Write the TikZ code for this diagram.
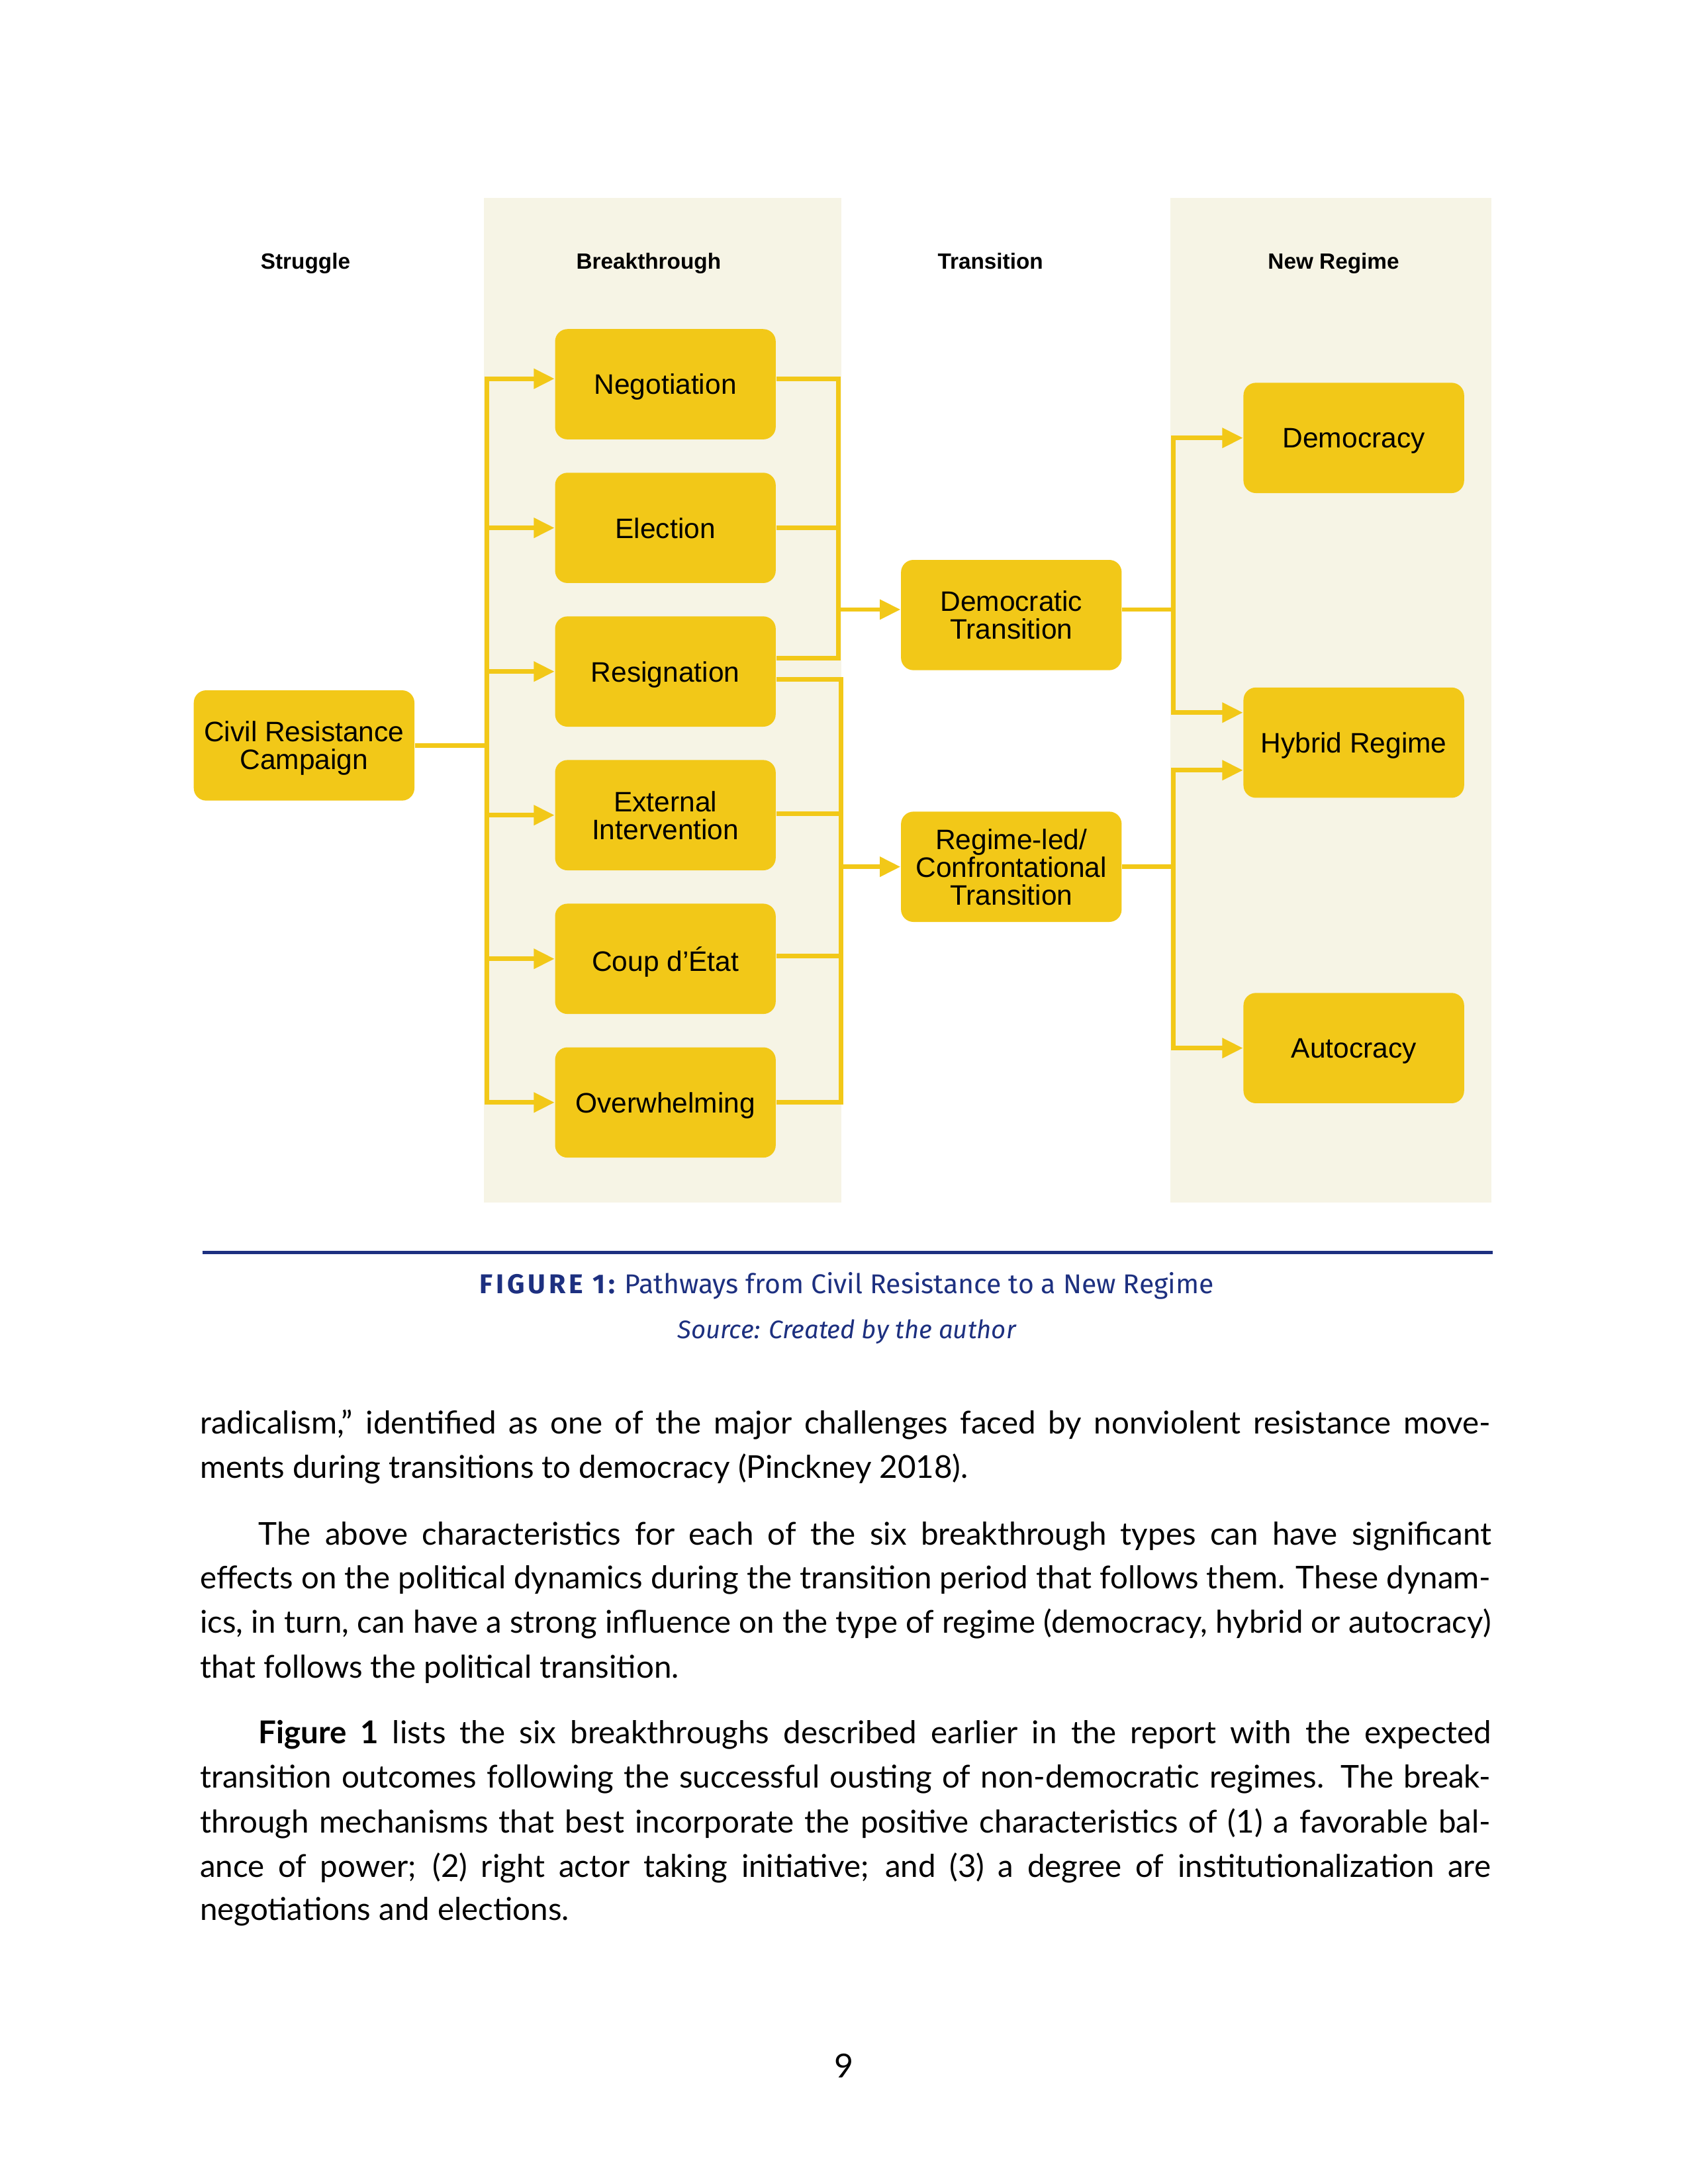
\documentclass[tikz,border=0pt]{standalone}
\usepackage{fontspec}
\usepackage{graphicx}
\setmainfont{Lato}
\newfontfamily\boxfont{Liberation Sans}
\newfontfamily\capfont{Fira Sans}
\newfontfamily\capfontsp{Fira Sans}[LetterSpace=12]
\usetikzlibrary{arrows.meta}
\definecolor{gold}{RGB}{242,200,24}
\definecolor{panelbg}{RGB}{246,244,229}
\definecolor{navy}{RGB}{29,48,128}
\newsavebox\jlbox
\newcommand\jline[2]{\sbox\jlbox{#2}\ifdim\wd\jlbox>#1\relax\resizebox{#1}{!}{\usebox\jlbox}\else\makebox[#1][s]{#2}\fi}
\tikzset{
  stage/.style={rounded corners=4.5pt, fill=gold, minimum width=80pt, minimum height=40pt,
    align=center, inner sep=1pt, text depth=0pt, font=\boxfont\fontsize{10.2}{10.1}\selectfont},
  header/.style={anchor=base, font=\boxfont\bfseries\fontsize{8}{10}\selectfont},
  conn/.style={draw=gold, line width=1.6pt},
  arr/.style={conn, -{Triangle[length=7.5pt,width=7pt]}},
  bodyline/.style={anchor=base west, inner sep=0pt, font=\fontsize{11.4}{16}\selectfont},
}
\begin{document}
\begin{tikzpicture}[x=0.50579pt, y=-0.50579pt]
\useasboundingbox[fill=white] (0,0) rectangle (1210,1566);
% panels
\fill[panelbg] (347,142) rectangle (603,862);
\fill[panelbg] (839,142) rectangle (1069,862);
% headers
\node[header] (h1) at (219,193) {Struggle};
\node[header] (h2) at (465,193) {Breakthrough};
\node[header] (h3) at (710,193) {Transition};
\node[header] (h4) at (956,193) {New Regime};
% nodes
\node[stage] (civ) at (218,534.5) {Civil Resistance\\Campaign};
\node[stage] (neg) at (477,275.5) {Negotiation};
\node[stage] (ele) at (477,378.5) {Election};
\node[stage] (res) at (477,481.5) {Resignation};
\node[stage] (ext) at (477,584.5) {External\\Intervention};
\node[stage] (cou) at (477,687.5) {Coup d’État};
\node[stage] (ovr) at (477,790.5) {Overwhelming};
\node[stage] (dt) at (725,441) {Democratic\\Transition};
\node[stage] (rl) at (725,621.5) {Regime-led/\\Confrontational\\Transition};
\node[stage] (dem) at (970.5,314) {Democracy};
\node[stage] (hyb) at (970.5,532.5) {Hybrid Regime};
\node[stage] (aut) at (970.5,751.5) {Autocracy};
% bus coordinates
\coordinate (trunk) at (349,0);
\coordinate (busU) at (601,0);
\coordinate (busL) at (603,0);
\coordinate (busR) at (841,0);
% struggle -> breakthroughs
\draw[conn] (civ.east) -- (civ.east -| trunk);
\draw[arr] (civ.east -| trunk) |- ([yshift=2pt]neg.west);
\draw[arr] (civ.east -| trunk) |- (ele.west);
\draw[arr] (civ.east -| trunk) |- (res.west);
\draw[arr] (civ.east -| trunk) |- (ext.west);
\draw[arr] (civ.east -| trunk) |- (cou.west);
\draw[arr] (civ.east -| trunk) |- (ovr.west);
% breakthroughs -> democratic transition
\draw[conn, line join=miter] ([yshift=2pt]neg.east) -| ([yshift=4.8pt]res.east -| busU) -- ([yshift=4.8pt]res.east);
\draw[conn] (ele.east) -- (ele.east -| busU);
\draw[arr] ([yshift=2pt]dt.west -| busU) -- ([yshift=2pt]dt.west);
% breakthroughs -> regime-led transition
\draw[conn, line join=miter] ([yshift=-2.8pt]res.east) -| (ovr.east -| busL) -- (ovr.east);
\draw[conn] ([yshift=0.5pt]ext.east) -- ([yshift=0.5pt]ext.east -| busL);
\draw[conn] ([yshift=1pt]cou.east) -- ([yshift=1pt]cou.east -| busL);
\draw[arr] (rl.west -| busL) -- (rl.west);
% transitions -> regimes
\draw[conn] ([yshift=2pt]dt.east) -- ([yshift=2pt]dt.east -| busR);
\draw[arr] ([yshift=2pt]dt.east -| busR) |- (dem.west);
\draw[arr] ([yshift=2pt]dt.east -| busR) |- ([yshift=10.9pt]hyb.west);
\draw[conn] (rl.east) -- (rl.east -| busR);
\draw[arr] (rl.east -| busR) |- ([yshift=-10pt]hyb.west);
\draw[arr] (rl.east -| busR) |- (aut.west);
% caption
\coordinate (ruleL) at (145,898);
\coordinate (ruleR) at (1070,898);
\draw[navy, line width=1.1pt] (ruleL) -- (ruleR);
\node[text=navy, font=\fontsize{9.85}{11}\selectfont] (cap) at (607,922)
  {{\capfontsp\bfseries FIGURE 1:} \capfont Pathways from Civil Resistance to a New Regime};
\node[text=navy, font=\capfont\itshape\fontsize{9.2}{11}\selectfont] (src) at (607,955)
  {Source: Created by the author};
% body text
\node[bodyline] (l1) at (143,1028) {\jline{468pt}{radicalism,” identified as one of the major challenges faced by nonviolent resistance move-}};
\node[bodyline] (l2) at (143,1060) {ments during transitions to democracy (Pinckney 2018).};
\node[bodyline] (l3) at (185,1108) {\jline{447pt}{The above characteristics for each of the six breakthrough types can have significant}};
\node[bodyline] (l4) at (143,1139) {\jline{468pt}{effects on the political dynamics during the transition period that follows them. These dynam-}};
\node[bodyline] (l5) at (143,1171) {\jline{468pt}{ics, in turn, can have a strong influence on the type of regime (democracy, hybrid or autocracy)}};
\node[bodyline] (l6) at (143,1203) {that follows the political transition.};
\node[bodyline] (l7) at (185,1250) {\jline{447pt}{\textbf{Figure 1} lists the six breakthroughs described earlier in the report with the expected}};
\node[bodyline] (l8) at (143,1282) {\jline{468pt}{transition outcomes following the successful ousting of non-democratic regimes. The break-}};
\node[bodyline] (l9) at (143,1314) {\jline{468pt}{through mechanisms that best incorporate the positive characteristics of (1) a favorable bal-}};
\node[bodyline] (l10) at (143,1346) {\jline{468pt}{ance of power; (2) right actor taking initiative; and (3) a degree of institutionalization are}};
\node[bodyline] (l11) at (143,1377) {negotiations and elections.};
% page number
\node[anchor=base, inner sep=0pt, font=\fontsize{12}{14}\selectfont] (pg) at (605,1490) {9};
\end{tikzpicture}
\end{document}
